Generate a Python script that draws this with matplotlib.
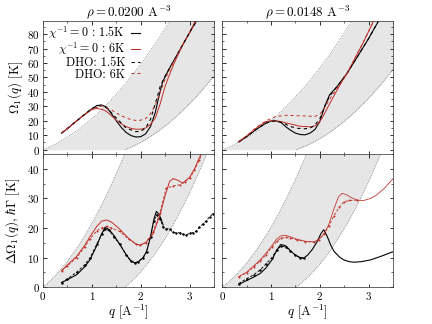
import numpy as np
import matplotlib
matplotlib.use("Agg")
import matplotlib.pyplot as plt
from matplotlib.ticker import MultipleLocator

plt.rcParams['font.family'] = 'cmr10'
plt.rcParams['mathtext.fontset'] = 'cm'
plt.rcParams['axes.formatter.use_mathtext'] = True
plt.rcParams['font.size'] = 11

RED = '#c0322c'
densities = [0.0200, 0.0148]
titles = [r'$\rho = 0.0200$ A$^{-3}$', r'$\rho = 0.0148$ A$^{-3}$']
hbar2_2m = 8.04  # K A^2, bare He-3

# ---- top row: Omega_1(q) ----
# rho = 0.0200
q_tl_bs = [0.38, 0.5, 0.6, 0.8, 1.0, 1.1, 1.2, 1.3, 1.4, 1.5, 1.6, 1.7, 1.8, 1.9, 2.0, 2.1, 2.2, 2.3, 2.38, 2.45, 2.52, 2.6, 2.75, 2.9, 3.05, 3.16]
y_tl_bs = [11.5, 14.5, 17.5, 23, 28.3, 30.5, 31, 29.5, 25, 20, 15.5, 12, 9.8, 8.8, 9, 11, 16, 26, 38, 47, 52, 57, 66, 75, 84, 90]
q_tl_rs = [0.38, 0.5, 0.6, 0.8, 1.0, 1.1, 1.2, 1.3, 1.4, 1.5, 1.6, 1.7, 1.8, 1.9, 2.0, 2.1, 2.2, 2.3, 2.4, 2.5, 2.6, 2.7, 2.85, 3.0, 3.13]
y_tl_rs = [11.5, 14.5, 17.5, 23, 27.8, 28.5, 28, 26.5, 23.5, 20.5, 18, 16, 14.8, 14.2, 14.2, 15, 17.5, 22, 32, 44, 53, 61, 72, 81, 90]
q_tl_bd = [0.38, 0.6, 0.8, 1.0, 1.15, 1.3, 1.5, 1.7, 1.9, 2.0, 2.1, 2.2, 2.3, 2.4, 2.5, 2.6, 2.75, 2.9, 3.05, 3.16]
y_tl_bd = [11.5, 17.5, 23, 28.5, 30.5, 29, 22, 15, 12.5, 12.8, 15, 21, 32, 44, 51, 57, 66, 75, 84, 90]
q_tl_rd = [0.38, 0.6, 0.8, 1.0, 1.2, 1.4, 1.6, 1.8, 1.95, 2.1, 2.2, 2.3, 2.4, 2.5, 2.6, 2.75, 2.9, 3.05, 3.15]
y_tl_rd = [11.5, 17.5, 23, 28, 30.5, 27.5, 23.5, 20.8, 20, 21.5, 25, 31, 40, 49, 56, 66, 75, 84, 90]

# rho = 0.0148
q_tr_bs = [0.34, 0.5, 0.7, 0.9, 1.05, 1.2, 1.3, 1.4, 1.5, 1.6, 1.7, 1.8, 1.9, 2.0, 2.1, 2.2, 2.36, 2.56, 2.8, 3.0, 3.2]
y_tr_bs = [5.4, 9, 14, 18.5, 20.4, 19, 16, 13.5, 11.5, 10.5, 10.3, 11.5, 14, 19.5, 30, 38, 44, 53, 66, 77, 89]
q_tr_rs = [0.34, 0.5, 0.7, 0.9, 1.05, 1.2, 1.4, 1.6, 1.85, 1.95, 2.05, 2.15, 2.3, 2.45, 2.56, 2.7, 2.9, 3.1]
y_tr_rs = [5.6, 9.5, 15, 19.5, 20.2, 19.5, 17.8, 16.2, 15.8, 17.5, 22, 28.5, 38, 47, 53, 62, 75, 89]
q_tr_bd = [0.34, 0.5, 0.7, 0.9, 1.1, 1.25, 1.4, 1.55, 1.7, 1.8, 1.9, 2.0, 2.1, 2.2, 2.36, 2.56, 2.8, 3.0, 3.2]
y_tr_bd = [5.4, 9, 14, 18.5, 20, 18.5, 16, 14.8, 14.5, 15, 17, 21.5, 30, 37, 44, 53, 66, 77, 89]
q_tr_rd = [0.34, 0.5, 0.7, 0.9, 1.1, 1.3, 1.6, 1.9, 2.0, 2.1, 2.2, 2.3, 2.45, 2.56, 2.7, 2.9, 3.1]
y_tr_rd = [5.6, 9.5, 15.5, 20, 23, 23.8, 23.5, 23, 24.5, 29, 35, 40, 47, 53, 62, 75, 89]

# ---- bottom row: Delta Omega_1(q), hbar Gamma ----
q_bl_bs = [0.38, 0.5, 0.69, 0.85, 0.96, 1.1, 1.2, 1.27, 1.35, 1.45, 1.57, 1.7, 1.8, 1.88, 1.95, 2.05, 2.12, 2.2, 2.27, 2.32, 2.38, 2.46]
y_bl_bs = [1.5, 2.5, 4.2, 6.8, 9.2, 14, 18, 20.2, 19.5, 17.5, 14.5, 11, 8.8, 8.2, 8.5, 10, 12, 17, 23, 25.6, 24.5, 21]
q_bl_bd = [0.38, 0.5, 0.69, 0.85, 0.96, 1.1, 1.2, 1.27, 1.35, 1.45, 1.57, 1.7, 1.8, 1.88, 1.95, 2.05, 2.12, 2.2, 2.27, 2.33, 2.4, 2.46,
           2.52, 2.59, 2.66, 2.72, 2.8, 2.87, 2.93, 3.0, 3.07, 3.14, 3.2, 3.27, 3.34, 3.41, 3.48]
y_bl_bd = [1.5, 2.8, 5, 7.5, 9.8, 14.5, 17.8, 19.5, 19.2, 17, 14.5, 11, 8.8, 8.2, 8.6, 10, 12, 17, 22.5, 24.5, 23, 20.2,
           19.8, 19.6, 18.6, 18.3, 18.4, 17.8, 17.6, 18.2, 18.4, 19, 20.3, 21.3, 22.4, 23.8, 24.8]
q_bl_rs = [0.38, 0.5, 0.69, 0.85, 0.96, 1.1, 1.2, 1.3, 1.4, 1.57, 1.75, 1.9, 1.98, 2.1, 2.25, 2.39, 2.5, 2.59, 2.66, 2.75, 2.86, 3.0, 3.1, 3.2, 3.27]
y_bl_rs = [5.5, 7.5, 10.4, 14, 17, 20.5, 22.3, 22.7, 22, 19.6, 16.5, 14.6, 14.2, 15, 17.9, 24.2, 31, 35.7, 36.7, 36.2, 35.2, 37.1, 40, 43.8, 46]
q_bl_rd = [0.38, 0.5, 0.69, 0.85, 0.96, 1.1, 1.2, 1.3, 1.4, 1.57, 1.75, 1.9, 1.98, 2.1, 2.25, 2.39, 2.52, 2.66, 2.8, 2.9, 3.0, 3.1, 3.2, 3.27]
y_bl_rd = [5.5, 7.2, 10, 13.5, 16.3, 19, 20, 20.5, 20, 18.8, 16.3, 14.5, 14.1, 15, 18.5, 25, 33.4, 34.2, 34.6, 35.5, 36.9, 39.5, 43, 46]

q_br_bs = [0.34, 0.5, 0.65, 0.78, 0.9, 1.02, 1.12, 1.2, 1.3, 1.4, 1.5, 1.6, 1.67, 1.75, 1.85, 1.95, 2.02, 2.08, 2.15, 2.22, 2.29, 2.4, 2.49, 2.6, 2.7, 2.85, 3.04, 3.25, 3.52]
y_br_bs = [0.9, 2.2, 3.4, 4.6, 6.5, 9.2, 12.5, 14.4, 14, 12.3, 10.8, 9.9, 9.8, 10.8, 12.8, 15.5, 18, 19.4, 17.2, 14.3, 12.1, 10.2, 9.2, 8.6, 8.4, 8.6, 9.2, 10.4, 12.1]
q_br_bd = [0.34, 0.5, 0.65, 0.78, 0.9, 1.02, 1.12, 1.2, 1.3, 1.4, 1.5, 1.6, 1.67]
y_br_bd = [1.2, 2.8, 4.2, 5.8, 7.8, 10, 12.6, 13.8, 13.6, 12.2, 10.8, 10, 9.8]
q_br_rs = [0.34, 0.5, 0.65, 0.78, 0.9, 1.02, 1.12, 1.2, 1.3, 1.4, 1.53, 1.7, 1.88, 1.98, 2.08, 2.18, 2.29, 2.38, 2.46, 2.55, 2.65, 2.77, 2.9, 3.04, 3.15, 3.32, 3.52]
y_br_rs = [3.5, 5, 7.2, 9.2, 11.5, 14, 16.3, 17.3, 17.5, 17, 16.2, 15.5, 15.3, 16.2, 17.9, 21, 26.5, 30.5, 31.7, 31.2, 30.2, 29.4, 29.3, 30, 31, 33.4, 37.1]
q_br_rd = [0.34, 0.5, 0.65, 0.78, 0.9, 1.02, 1.12, 1.2, 1.3, 1.4, 1.53, 1.7, 1.88, 1.98, 2.08, 2.18, 2.29, 2.4, 2.49, 2.6, 2.77]
y_br_rd = [3.5, 4.8, 6.8, 8.8, 11, 13.5, 15.5, 16.5, 16.8, 16.5, 16, 15.4, 15.2, 16, 17.8, 20.5, 24.2, 27, 28.8, 29.3, 29.4]

top_data = [
    (q_tl_bs, y_tl_bs, q_tl_rs, y_tl_rs, q_tl_bd, y_tl_bd, q_tl_rd, y_tl_rd),
    (q_tr_bs, y_tr_bs, q_tr_rs, y_tr_rs, q_tr_bd, y_tr_bd, q_tr_rd, y_tr_rd),
]
bot_data = [
    (q_bl_bs, y_bl_bs, q_bl_rs, y_bl_rs, q_bl_bd, y_bl_bd, q_bl_rd, y_bl_rd),
    (q_br_bs, y_br_bs, q_br_rs, y_br_rs, q_br_bd, y_br_bd, q_br_rd, y_br_rd),
]

fig, axes = plt.subplots(2, 2, figsize=(6, 4.5), dpi=72)
fig.subplots_adjust(left=0.0995, right=0.91, bottom=0.114, top=0.935, wspace=0.047, hspace=0)

qq = np.linspace(0, 3.5, 300)
for col, rho in enumerate(densities):
    kf = (3 * np.pi**2 * rho) ** (1 / 3)
    upper = hbar2_2m * (qq**2 + 2 * qq * kf)
    lower = np.maximum(hbar2_2m * (qq**2 - 2 * qq * kf), 0)
    for row in range(2):
        ax = axes[row, col]
        ax.fill_between(qq, lower, upper, color='#e6e6e6', lw=0, zorder=0)
        ax.plot(qq, upper, ':', color='#555555', lw=0.7, zorder=1)
        mask = qq > 2 * kf
        ax.plot(qq[mask], lower[mask], ':', color='#555555', lw=0.7, zorder=1)

    qbs, ybs, qrs, yrs, qbd, ybd, qrd, yrd = top_data[col]
    ax = axes[0, col]
    ax.plot(qbs, ybs, '-', color='k', lw=1.1, label=r'$\chi^{-1}=0$ : 1.5K')
    ax.plot(qrs, yrs, '-', color=RED, lw=1.0, label=r'$\chi^{-1}=0$ : 6K')
    ax.plot(qbd, ybd, '--', color='k', lw=1.1, dashes=(3, 3), label='DHO: 1.5K')
    ax.plot(qrd, yrd, '--', color=RED, lw=1.0, dashes=(3, 3), label='DHO: 6K')
    ax.set_ylim(-3, 89)
    ax.set_title(titles[col], fontsize=13, pad=4)

    qbs, ybs, qrs, yrs, qbd, ybd, qrd, yrd = bot_data[col]
    ax = axes[1, col]
    ax.plot(qbs, ybs, '-', color='k', lw=1.1)
    ax.plot(qrs, yrs, '-', color=RED, lw=1.0 if col == 0 else 0.8)
    ax.plot(qbd, ybd, '--', color='k', lw=0.9, dashes=(3, 2), marker='o', ms=1.4)
    ax.plot(qrd, yrd, '--', color=RED, lw=0.9, dashes=(3, 2), marker='o', ms=1.0)
    ax.set_ylim(0, 45)

for ax in axes.flat:
    ax.set_xlim(0, 3.5)
    ax.xaxis.set_major_locator(MultipleLocator(1))
    ax.xaxis.set_minor_locator(MultipleLocator(0.5))
    ax.yaxis.set_major_locator(MultipleLocator(10))
    ax.yaxis.set_minor_locator(MultipleLocator(5))
    ax.tick_params(which='both', direction='in', top=True, right=True, labelsize=11)
    ax.tick_params(which='major', length=3.5, pad=3)
    ax.tick_params(which='minor', length=2)
    for sp in ax.spines.values():
        sp.set_color('#444444')
        sp.set_linewidth(0.8)

for ax in axes[0]:
    ax.tick_params(labelbottom=False)
for ax in axes[:, 1]:
    ax.tick_params(labelleft=False)

axes[0, 0].set_ylabel(r'$\Omega_1(q)$ [K]', fontsize=13, labelpad=2)
axes[1, 0].set_ylabel(r'$\Delta\Omega_1(q)$, $\hbar\Gamma$ [K]', fontsize=13, labelpad=5)
axes[1, 0].set_xlabel(r'$q$ [A$^{-1}$]', fontsize=13, labelpad=0)
axes[1, 1].set_xlabel(r'$q$ [A$^{-1}$]', fontsize=13, labelpad=0)

axes[0, 0].legend(loc='upper left', bbox_to_anchor=(-0.01, 1.03), frameon=False, markerfirst=False,
                  handlelength=0.7, handletextpad=0.5, labelspacing=-0.05, fontsize=12, borderaxespad=0.2)

fig.savefig('out.png', dpi=72)
